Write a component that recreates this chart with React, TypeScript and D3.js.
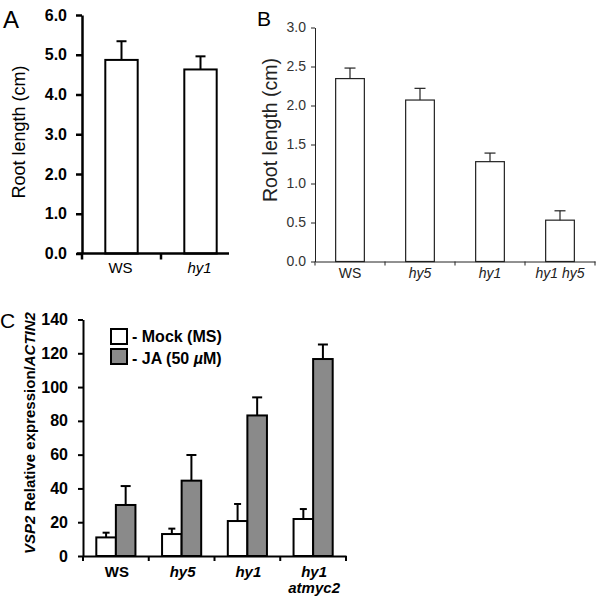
import React, { useEffect, useRef } from 'react';
import * as d3 from 'd3';

// Panel A
const catsA = ['WS', 'hy1'];
const valsA = [4.87, 4.63];
const errA = [0.47, 0.33];
const ticksA = [0, 1, 2, 3, 4, 5, 6];

// Panel B
const catsB = ['WS', 'hy5', 'hy1', 'hy1 hy5'];
const valsB = [2.345, 2.07, 1.28, 0.53];
const errB = [0.135, 0.15, 0.11, 0.12];
const ticksB = [0, 0.5, 1, 1.5, 2, 2.5, 3];

// Panel C
const catsC = ['WS', 'hy5', 'hy1', 'hy1 atmyc2'];
const mockC = [11.0, 13.0, 20.7, 21.9];
const mockErrC = [2.8, 3.2, 10.1, 5.9];
const jaC = [30.2, 44.6, 83.2, 116.6];
const jaErrC = [11.2, 15.2, 10.7, 8.6];
const ticksC = [0, 20, 40, 60, 80, 100, 120, 140];

const FONT = "'Liberation Sans', Arial, Helvetica, sans-serif";
const GREY = '#8a8a8a';

// write a genotype label: "WS" upright, mutant names italic
const catLabel = (sel: any, name: string, lines?: boolean) => {
  const parts = lines ? name.split(' ') : [name];
  parts.forEach((p, i) => {
    sel
      .append('tspan')
      .attr('x', sel.attr('x'))
      .attr('dy', i === 0 ? 0 : 16)
      .attr('font-style', p === 'WS' ? 'normal' : 'italic')
      .text(p);
  });
};

const App: React.FC = () => {
  const ref = useRef(null);

  useEffect(() => {
    if (!ref.current) return;
    const svg = d3.select(ref.current);
    svg.selectAll('*').remove();
    svg.attr('font-family', FONT);

    // ---------- A ----------
    {
      const g = svg.append('g');
      const y = d3.scaleLinear().domain([0, 6]).range([253.5, 15]);
      const x = d3.scaleBand().domain(catsA).range([82, 240]);
      const bw = x.bandwidth() * 0.41;

      g.selectAll('rect')
        .data(catsA)
        .enter()
        .append('rect')
        .attr('x', (d) => (x(d) || 0) + (x.bandwidth() - bw) / 2)
        .attr('y', (d, i) => y(valsA[i]))
        .attr('width', bw)
        .attr('height', (d, i) => y(0) - y(valsA[i]))
        .attr('fill', '#fff')
        .attr('stroke', '#000')
        .attr('stroke-width', 2);

      catsA.forEach((c, i) => {
        const cx = (x(c) || 0) + x.bandwidth() / 2;
        g.append('line').attr('x1', cx).attr('x2', cx)
          .attr('y1', y(valsA[i])).attr('y2', y(valsA[i] + errA[i]))
          .attr('stroke', '#000').attr('stroke-width', 2);
        g.append('line').attr('x1', cx - 5).attr('x2', cx + 5)
          .attr('y1', y(valsA[i] + errA[i])).attr('y2', y(valsA[i] + errA[i]))
          .attr('stroke', '#000').attr('stroke-width', 2);
      });

      const ax = g.append('g')
        .attr('transform', 'translate(82,0)')
        .call(
          d3.axisLeft(y).tickValues(ticksA).tickFormat(d3.format('.1f'))
            .tickSize(6).tickSizeOuter(0).tickPadding(9)
        );
      ax.select('.domain').attr('stroke-width', 2.5);
      ax.selectAll('line').attr('stroke-width', 2.5);
      ax.selectAll('text').attr('font-size', 16).attr('font-weight', 'bold')
        .attr('font-family', FONT).attr('fill', '#000');

      g.append('line').attr('x1', 77).attr('x2', 229)
        .attr('y1', y(0)).attr('y2', y(0))
        .attr('stroke', '#000').attr('stroke-width', 2.5);
      catsA.forEach((c) => {
        g.append('line').attr('x1', x(c) || 0).attr('x2', x(c) || 0)
          .attr('y1', y(0)).attr('y2', y(0) + 6)
          .attr('stroke', '#000').attr('stroke-width', 2.5);
        const t = g.append('text')
          .attr('x', (x(c) || 0) + x.bandwidth() / 2 - 1)
          .attr('y', 273)
          .attr('text-anchor', 'middle')
          .attr('font-size', 15);
        catLabel(t, c);
      });

      g.append('text').attr('x', 3).attr('y', 28).attr('font-size', 24).text('A');
      g.append('text')
        .attr('transform', 'translate(25,132) rotate(-90)')
        .attr('text-anchor', 'middle')
        .attr('font-size', 18)
        .text('Root length (cm)');
    }

    // ---------- B ----------
    {
      const g = svg.append('g');
      const ink = '#222';
      const y = d3.scaleLinear().domain([0, 3]).range([261.5, 27.5]);
      const x = d3.scaleBand().domain(catsB).range([315, 595]);
      const bw = x.bandwidth() * 0.41;

      g.selectAll('rect')
        .data(catsB)
        .enter()
        .append('rect')
        .attr('x', (d) => (x(d) || 0) + (x.bandwidth() - bw) / 2)
        .attr('y', (d, i) => y(valsB[i]))
        .attr('width', bw)
        .attr('height', (d, i) => y(0) - y(valsB[i]))
        .attr('fill', '#fff')
        .attr('stroke', ink)
        .attr('stroke-width', 1.2);

      catsB.forEach((c, i) => {
        const cx = (x(c) || 0) + x.bandwidth() / 2;
        g.append('line').attr('x1', cx).attr('x2', cx)
          .attr('y1', y(valsB[i])).attr('y2', y(valsB[i] + errB[i]))
          .attr('stroke', ink).attr('stroke-width', 1.2);
        g.append('line').attr('x1', cx - 5.5).attr('x2', cx + 5.5)
          .attr('y1', y(valsB[i] + errB[i])).attr('y2', y(valsB[i] + errB[i]))
          .attr('stroke', ink).attr('stroke-width', 1.2);
      });

      const ax = g.append('g')
        .attr('transform', 'translate(315,0)')
        .call(
          d3.axisLeft(y).tickValues(ticksB).tickFormat(d3.format('.1f'))
            .tickSize(4).tickSizeOuter(0).tickPadding(5)
        );
      ax.selectAll('.domain, line').attr('stroke', ink);
      ax.selectAll('text').attr('font-size', 14).attr('font-family', FONT).attr('fill', '#333');

      const bx = g.append('g')
        .attr('transform', `translate(0,${y(0)})`)
        .call(d3.axisBottom(x).tickValues([]).tickSizeOuter(0));
      bx.select('.domain').attr('stroke', ink);
      [...catsB.map((c) => x(c) || 0), 595].forEach((tx) => {
        g.append('line').attr('x1', tx).attr('x2', tx)
          .attr('y1', y(0)).attr('y2', y(0) + 4).attr('stroke', ink);
      });
      catsB.forEach((c) => {
        const t = g.append('text')
          .attr('x', (x(c) || 0) + x.bandwidth() / 2)
          .attr('y', 278)
          .attr('text-anchor', 'middle')
          .attr('font-size', 14)
          .attr('fill', '#222');
        catLabel(t, c);
      });

      g.append('text').attr('x', 257).attr('y', 26).attr('font-size', 21).text('B');
      g.append('text')
        .attr('transform', 'translate(277,130) rotate(-90)')
        .attr('text-anchor', 'middle')
        .attr('font-size', 19.5)
        .attr('fill', '#222')
        .text('Root length (cm)');
    }

    // ---------- C ----------
    {
      const g = svg.append('g');
      const y = d3.scaleLinear().domain([0, 140]).range([556, 319.5]);
      const x = d3.scaleBand().domain(catsC).range([83, 346]);
      const x1 = d3.scaleBand().domain(['mock', 'ja']).range([0, x.bandwidth()])
        .paddingInner(0).paddingOuter(0.68);

      const series = [
        { key: 'mock', vals: mockC, errs: mockErrC, fill: '#fff', cap: 3.5 },
        { key: 'ja', vals: jaC, errs: jaErrC, fill: GREY, cap: 5 },
      ];

      series.forEach((s) => {
        catsC.forEach((c, i) => {
          const bx0 = (x(c) || 0) + (x1(s.key) || 0);
          const cx = bx0 + x1.bandwidth() / 2;
          const top = y(s.vals[i] + s.errs[i]);
          g.append('line').attr('x1', cx).attr('x2', cx)
            .attr('y1', y(s.vals[i])).attr('y2', top)
            .attr('stroke', '#000').attr('stroke-width', 2);
          g.append('line').attr('x1', cx - s.cap).attr('x2', cx + s.cap)
            .attr('y1', top).attr('y2', top)
            .attr('stroke', '#000').attr('stroke-width', 2);
          g.append('rect')
            .attr('x', bx0)
            .attr('y', y(s.vals[i]))
            .attr('width', x1.bandwidth())
            .attr('height', y(0) - y(s.vals[i]))
            .attr('fill', s.fill)
            .attr('stroke', '#000')
            .attr('stroke-width', 2);
        });
      });

      const ax = g.append('g')
        .attr('transform', 'translate(83,0)')
        .call(
          d3.axisLeft(y).tickValues(ticksC).tickSize(5).tickSizeOuter(0).tickPadding(10)
        );
      ax.select('.domain').attr('stroke-width', 2);
      ax.selectAll('line').attr('stroke-width', 2);
      ax.selectAll('text').attr('font-size', 16).attr('font-weight', 'bold')
        .attr('font-family', FONT).attr('fill', '#000');

      const bxa = g.append('g')
        .attr('transform', `translate(0,${y(0)})`)
        .call(d3.axisBottom(x).tickValues([]).tickSizeOuter(0));
      bxa.select('.domain').attr('stroke-width', 2);
      [...catsC.map((c) => x(c) || 0), 346].forEach((tx) => {
        g.append('line').attr('x1', tx).attr('x2', tx)
          .attr('y1', y(0)).attr('y2', y(0) + 5)
          .attr('stroke', '#000').attr('stroke-width', 2);
      });
      catsC.forEach((c) => {
        const t = g.append('text')
          .attr('x', (x(c) || 0) + x.bandwidth() / 2 + 1)
          .attr('y', 577)
          .attr('text-anchor', 'middle')
          .attr('font-size', 15)
          .attr('font-weight', 'bold');
        catLabel(t, c, true);
      });

      // legend
      const leg = g.append('g');
      leg.append('rect').attr('x', 111).attr('y', 329).attr('width', 16).attr('height', 15)
        .attr('fill', '#fff').attr('stroke', '#000').attr('stroke-width', 2);
      leg.append('rect').attr('x', 111).attr('y', 349).attr('width', 16).attr('height', 15)
        .attr('fill', GREY).attr('stroke', '#000').attr('stroke-width', 2);
      leg.append('text').attr('x', 132).attr('y', 342).attr('font-size', 16)
        .attr('font-weight', 'bold').text('- Mock (MS)');
      const jt = leg.append('text').attr('x', 132).attr('y', 363.5).attr('font-size', 16)
        .attr('font-weight', 'bold');
      jt.append('tspan').text('- JA (50 ');
      jt.append('tspan').attr('font-style', 'italic').text('\u00b5');
      jt.append('tspan').text('M)');

      g.append('text').attr('x', 0).attr('y', 328).attr('font-size', 21).text('C');
      const yl = g.append('text')
        .attr('transform', 'translate(35,433) rotate(-90)')
        .attr('text-anchor', 'middle')
        .attr('font-size', 15)
        .attr('font-weight', 'bold');
      yl.append('tspan').attr('font-style', 'italic').text('VSP2');
      yl.append('tspan').text(' Relative expression/');
      yl.append('tspan').attr('font-style', 'italic').text('ACTIN2');
    }

    return () => {
      svg.selectAll('*').remove();
    };
  }, []);

  return (
    <svg
      ref={ref}
      width={600}
      height={601}
      style={{ position: 'absolute', left: 0, top: 0, background: '#fff' }}
    ></svg>
  );
};

export default App;
